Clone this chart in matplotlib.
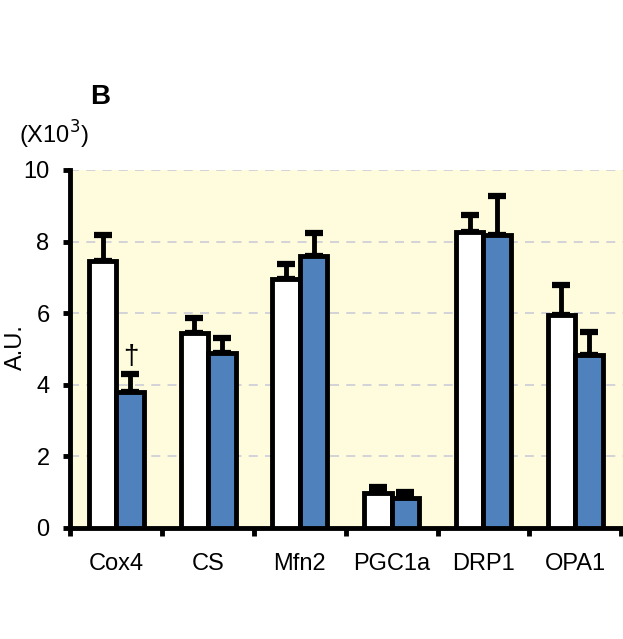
import numpy as np
import matplotlib.pyplot as plt

categories = ["Cox4", "CS", "Mfn2", "PGC1a", "DRP1", "OPA1"]
white_vals = [7.45, 5.45, 6.95, 0.98, 8.27, 5.95]
white_err = [0.72, 0.42, 0.42, 0.17, 0.47, 0.84]
blue_vals = [3.80, 4.88, 7.60, 0.84, 8.18, 4.83]
blue_err = [0.50, 0.42, 0.64, 0.16, 1.09, 0.64]

plt.rcParams['font.family'] = ['Liberation Sans', 'DejaVu Sans']

fig = plt.figure(figsize=(6.23, 6.39), dpi=100)
ax = fig.add_axes([0.113, 0.174, 0.887, 0.560])
ax.set_facecolor('#fefcdc')

x = np.arange(len(categories))
w = 0.30
ax.bar(x + 0.35, white_vals, w, color='white', edgecolor='black', linewidth=3.5, zorder=3)
ax.bar(x + 0.65, blue_vals, w, color='#4f81bd', edgecolor='black', linewidth=3.5, zorder=3)
ax.errorbar(x + 0.35, white_vals, yerr=[np.zeros(6), white_err], fmt='none',
            ecolor='black', elinewidth=3.5, capsize=6.5, capthick=4.5, zorder=2)
ax.errorbar(x + 0.65, blue_vals, yerr=[np.zeros(6), blue_err], fmt='none',
            ecolor='black', elinewidth=3.5, capsize=6.5, capthick=4.5, zorder=2)

# dagger over Cox4
ax.text(0.66, blue_vals[0] + blue_err[0] + 0.12, '†', ha='center', va='bottom', fontsize=20)

ax.set_xlim(0, 6.02)
ax.set_ylim(0, 10)
ax.set_yticks([0, 2, 4, 6, 8, 10])
ax.yaxis.grid(True, color='#d0d0d8', linestyle=(0, (5, 4)), linewidth=1.3, zorder=0)
ax.set_axisbelow(True)

ax.set_xticks(np.arange(7))
ax.set_xticklabels([])
ax.set_xticks(x + 0.5, minor=True)
ax.set_xticklabels(categories, minor=True, fontsize=17)
ax.tick_params(axis='x', which='minor', length=0, pad=18)
ax.tick_params(axis='x', which='major', length=6, width=3.5, direction='out')
ax.tick_params(axis='y', length=5, width=3.5, labelsize=17, pad=10)

for s in ['top', 'right']:
    ax.spines[s].set_visible(False)
ax.spines['left'].set_linewidth(3.5)
ax.spines['bottom'].set_linewidth(3.5)

fig.text(0.026, 0.457, 'A.U.', fontsize=17, rotation=90, ha='center', va='center')
fig.text(0.161, 0.848, 'B', fontsize=20, fontweight='bold', ha='center', va='center')
fig.text(0.087, 0.789, '(X10$^3$)', fontsize=17, ha='center', va='center')

plt.savefig('out.png')
